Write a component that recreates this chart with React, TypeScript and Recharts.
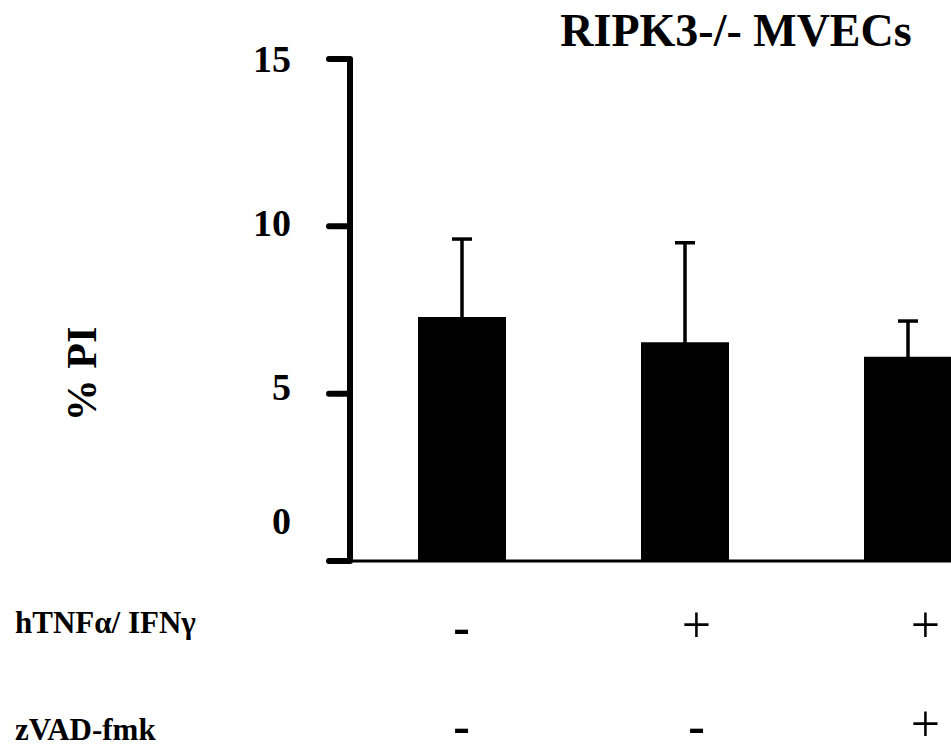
import { BarChart, Bar, XAxis, YAxis, ErrorBar } from 'recharts'

// treatment groups, left to right
const groups = ['ctrl', 'tnf', 'tnfZvad']
const tnfIfnRow = ['-', '+', '+']
const zvadRow = ['-', '-', '+']
const meanPI = [7.29, 6.54, 6.1]
const semPI = [2.33, 2.97, 1.07]
const yTicks = [0, 5, 10, 15]

const data = groups.map((g, i) => ({
  group: g,
  tnf: tnfIfnRow[i],
  zvad: zvadRow[i],
  value: meanPI[i],
  err: semPI[i],
}))

const SERIF = '"Liberation Serif", "Times New Roman", serif'

// the original figure places its tick labels a bit above their ticks
const labelNudge: Record<number, number> = { 0: -40, 5: -7, 10: -3, 15: 0 }
const signNudge = [0, 12, 18]

function YTick(props: any) {
  const { x, y, payload } = props
  const v = payload.value as number
  return (
    <text
      x={x}
      y={y + (labelNudge[v] ?? 0) + 13}
      textAnchor="end"
      fontFamily={SERIF}
      fontWeight="bold"
      fontSize={38}
      fill="#000"
    >
      {v}
    </text>
  )
}

function Sign({ x, y, s }: { x: number; y: number; s: string }) {
  const plus = s === '+'
  return (
    <text
      x={x}
      y={plus ? y : y + 2}
      textAnchor="middle"
      fontFamily={SERIF}
      fontWeight={plus ? 'normal' : 'bold'}
      fontSize={plus ? 52 : 50}
      fill="#000"
    >
      {s}
    </text>
  )
}

function XTick(props: any) {
  const { x, y, index } = props
  const row = data[index]
  if (!row) return null
  const cx = x + (signNudge[index] ?? 0)
  return (
    <g>
      <Sign x={cx} y={y + 81} s={row.tnf} />
      <Sign x={cx} y={y + 180} s={row.zvad} />
    </g>
  )
}

export default function App() {
  return (
    <div
      style={{
        position: 'absolute',
        left: 0,
        top: 0,
        width: 951,
        height: 749,
        overflow: 'hidden',
        background: '#fff',
      }}
    >
      <BarChart
        width={1019}
        height={749}
        data={data}
        margin={{ top: 59, right: 0, bottom: 0, left: 0 }}
      >
        <XAxis
          dataKey="group"
          height={188}
          axisLine={{ stroke: '#000', strokeWidth: 3 }}
          tickLine={false}
          tickSize={0}
          tickMargin={0}
          tick={<XTick />}
          interval={0}
        />
        <YAxis
          width={350}
          domain={[0, 15]}
          ticks={yTicks}
          interval={0}
          axisLine={{ stroke: '#000', strokeWidth: 6 }}
          tickLine={{ stroke: '#000', strokeWidth: 6, strokeLinecap: 'round' }}
          tickSize={21}
          tickMargin={38}
          tick={<YTick />}
        />
        <Bar dataKey="value" fill="#000" barSize={88} isAnimationActive={false}>
          <ErrorBar
            dataKey="err"
            direction="y"
            width={10}
            stroke="#000"
            strokeWidth={3.5}
            isAnimationActive={false}
          />
        </Bar>
      </BarChart>
      <svg
        width={951}
        height={749}
        style={{ position: 'absolute', left: 0, top: 0, pointerEvents: 'none' }}
      >
        <text
          x={736}
          y={46}
          textAnchor="middle"
          fontFamily={SERIF}
          fontWeight="bold"
          fontSize={46}
          fill="#000"
        >
          RIPK3-/- MVECs
        </text>
        <text
          x={96}
          y={374}
          transform="rotate(-90, 96, 374)"
          textAnchor="middle"
          fontFamily={SERIF}
          fontWeight="bold"
          fontSize={42}
          fill="#000"
        >
          % PI
        </text>
        <text x={15} y={633} fontFamily={SERIF} fontWeight="bold" fontSize={31} fill="#000">
          hTNFα/ IFNγ
        </text>
        <text x={15} y={740} fontFamily={SERIF} fontWeight="bold" fontSize={31} fill="#000">
          zVAD-fmk
        </text>
      </svg>
    </div>
  )
}
